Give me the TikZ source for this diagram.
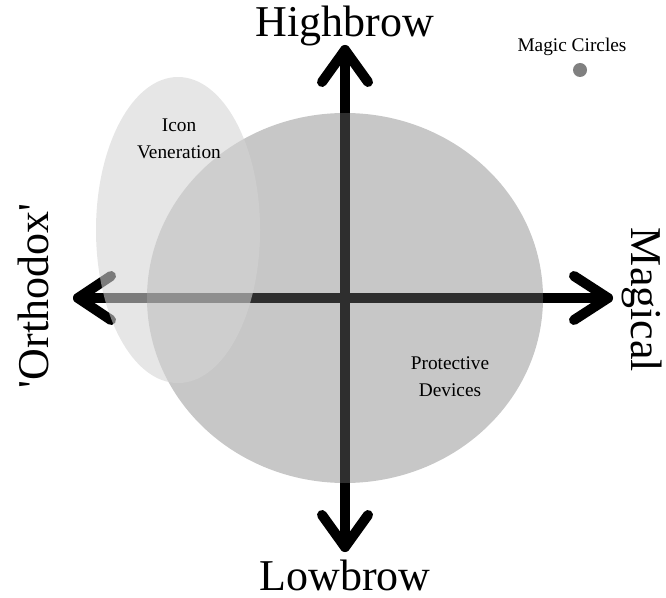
\documentclass[tikz,border=0pt]{standalone}
\usepackage{fontspec}
\setmainfont{Liberation Serif}
\newfontfamily\plainserif{Liberation Serif}
\begin{document}
\begin{tikzpicture}[x=0.75pt,y=-0.75pt,
  axisline/.style={line width=7.5pt, line cap=round, line join=round, draw=black},
  bigfill/.style={fill=black!55, fill opacity=0.4},
  iconfill/.style={fill=black!17, fill opacity=0.58},
  dotfill/.style={fill=black!50},
  biglabel/.style={font=\plainserif\fontsize{33}{33}\selectfont, inner sep=0pt},
  smalllabel/.style={font=\plainserif\fontsize{14.5}{20.5}\selectfont, align=center, inner sep=0pt}]
\useasboundingbox (0,0) rectangle (666,598);
% axes
\coordinate (T) at (345,50);
\coordinate (B) at (345,547);
\coordinate (L) at (78,298);
\coordinate (R) at (608,298);
\draw[axisline] (B) -- (T);
\draw[axisline] (L) -- (R);
\draw[axisline] ([shift={(-23,32)}]T) -- (T) -- ([shift={(23,32)}]T);
\draw[axisline] ([shift={(-23,-32)}]B) -- (B) -- ([shift={(23,-32)}]B);
\draw[axisline] ([shift={(33,-22)}]L) -- (L) -- ([shift={(33,22)}]L);
\draw[axisline] ([shift={(-34,-22)}]R) -- (R) -- ([shift={(-34,22)}]R);
% regions
\fill[bigfill] (345,298) ellipse [x radius=198, y radius=185];
\fill[iconfill] (178,230) ellipse [x radius=82, y radius=153];
\fill[dotfill] (580,70) circle [radius=7];
% labels
\node[biglabel, anchor=base] (hb) at (345,37) {Highbrow};
\node[biglabel, anchor=base] (lb) at (345,590) {Lowbrow};
\node[biglabel, anchor=base, rotate=90] (orth) at (48,296) {'Orthodox'};
\node[biglabel, anchor=base, rotate=-90] (mag) at (631,300) {Magical};
\node[smalllabel] (mc) at (572,47) {Magic Circles};
\node[smalllabel] (iv) at (179,139) {Icon\\Veneration};
\node[smalllabel] (pd) at (450,377) {Protective\\Devices};
\end{tikzpicture}
\end{document}
